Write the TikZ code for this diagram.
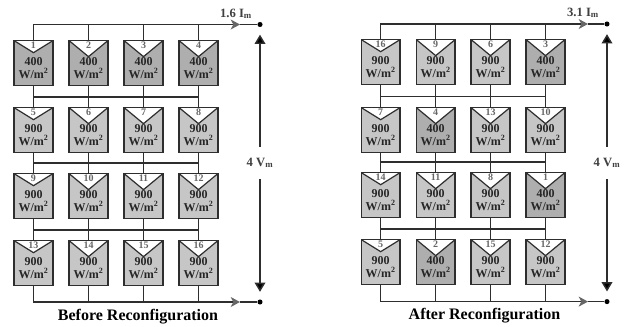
\documentclass[tikz,border=0pt]{standalone}
\usepackage{fontspec}
\setmainfont{Liberation Serif}
\usepackage{xcolor}
\usetikzlibrary{arrows.meta,positioning}

\definecolor{pv400}{HTML}{AEAEAE}
\definecolor{pv900}{HTML}{C6C6C6}
\definecolor{wirecol}{HTML}{2E2E2E}

% name, x, y, number, irradiance, notch depth
\newcommand{\pv}[6]{
\node[pv=#6, fill=pv#5] (#1) at (#2,#3) {};
\node[pvnum] (#1n) at ([yshift=-3.8pt]#1.north) {#4};
\node[pvtxt] (#1t) at ([yshift=-3.8pt]#1.center) {#5\\W/m\textsuperscript{2}};
}

\begin{document}
\begin{tikzpicture}[
x=0.75pt, y=-0.75pt,
pv/.style={draw=wirecol, line width=1.2pt, minimum width=29pt, minimum height=33.5pt, inner sep=0pt,
  path picture={\fill[white] (path picture bounding box.north west) -- (path picture bounding box.north east) -- ([yshift=-#1]path picture bounding box.north) -- cycle;
  \draw[wirecol, line width=0.9pt] (path picture bounding box.north west) -- ([yshift=-#1]path picture bounding box.north) -- (path picture bounding box.north east);}},
pvnum/.style={inner sep=0pt, font=\fontsize{7.5}{8}\selectfont\bfseries, text=black!60},
pvtxt/.style={inner sep=0pt, align=center, text=black!85, font=\fontsize{9}{9.8}\selectfont\bfseries},
wire/.style={draw=wirecol, line width=1pt},
arr/.style={wire, -{Stealth[length=7pt, width=7.5pt, inset=2pt, fill=black!60, color=black!60]}},
volt/.style={draw=wirecol, line width=1.1pt, -{Triangle[length=7pt, width=8pt, fill=black]}, shorten >=5.5pt},
dot/.style={circle, fill=black, inner sep=0pt, minimum size=3.8pt},
vlab/.style={inner sep=0pt, minimum height=24pt, font=\fontsize{9.5}{10}\selectfont\bfseries, text=black!75},
ilab/.style={inner sep=0pt, font=\fontsize{9.5}{10}\selectfont\bfseries, text=black!75},
captext/.style={inner sep=0pt, font=\fontsize{12}{13}\selectfont\bfseries}
]
\useasboundingbox (0,0) rectangle (624,326);

% before
\pv{b1}{33.5}{63}{1}{400}{9pt}
\pv{b2}{88.5}{63}{2}{400}{12pt}
\pv{b3}{143.5}{63}{3}{400}{12pt}
\pv{b4}{198.5}{63}{4}{400}{12pt}
\pv{b5}{33.5}{130}{5}{900}{9pt}
\pv{b6}{88.5}{130}{6}{900}{12pt}
\pv{b7}{143.5}{130}{7}{900}{12pt}
\pv{b8}{198.5}{130}{8}{900}{12pt}
\pv{b9}{33.5}{196}{9}{900}{9pt}
\pv{b10}{88.5}{196}{10}{900}{12pt}
\pv{b11}{143.5}{196}{11}{900}{12pt}
\pv{b12}{198.5}{196}{12}{900}{12pt}
\pv{b13}{33.5}{263}{13}{900}{9pt}
\pv{b14}{88.5}{263}{14}{900}{12pt}
\pv{b15}{143.5}{263}{15}{900}{12pt}
\pv{b16}{198.5}{263}{16}{900}{12pt}

% after
\pv{a16}{380.7}{62}{16}{900}{9pt}
\pv{a9}{435.7}{62}{9}{900}{12pt}
\pv{a6}{490.5}{62}{6}{900}{12pt}
\pv{a3}{545.5}{62}{3}{400}{12pt}
\pv{a7}{380.7}{130}{7}{900}{9pt}
\pv{a4}{435.7}{130}{4}{400}{12pt}
\pv{a13}{490.5}{130}{13}{900}{12pt}
\pv{a10}{545.5}{130}{10}{900}{12pt}
\pv{a14}{380.7}{195}{14}{900}{9pt}
\pv{a11}{435.7}{195}{11}{900}{12pt}
\pv{a8}{490.5}{195}{8}{900}{12pt}
\pv{a1}{545.5}{195}{1}{400}{12pt}
\pv{a5}{380.7}{262}{5}{900}{9pt}
\pv{a2}{435.7}{262}{2}{400}{12pt}
\pv{a15}{490.5}{262}{15}{900}{12pt}
\pv{a12}{545.5}{262}{12}{900}{12pt}

% terminals
\node[dot] (btop) at (260,24.5) {};
\node[dot] (bbot) at (260,302) {};
\node[dot] (atop) at (607,24) {};
\node[dot] (abot) at (607,301.6) {};
\coordinate (btip) at (240,24.5);
\coordinate (bbtip) at (240,302);
\coordinate (atip) at (588,24);
\coordinate (abtip) at (588,301.6);
\coordinate (bus1) at (0,97);
\coordinate (bus2) at (0,163);
\coordinate (bus3) at (0,230);
\coordinate (bus4) at (0,96.7);
\coordinate (bus5) at (0,162);
\coordinate (bus6) at (0,229);

% rails
\draw[wire] (btip) -- (btop);
\draw[arr] (b1.north) |- (btip);
\draw[wire] (bbtip) -- (bbot);
\draw[arr] (b13.south) |- (bbtip);
\draw[wire] (atip) -- (atop);
\draw[arr] (a16.north) |- (atip);
\draw[wire] (abtip) -- (abot);
\draw[arr] (a5.south) |- (abtip);

\foreach \n in {b2,b3,b4} \draw[wire] (\n.north) -- (\n.north |- btop);
\foreach \n in {b14,b15,b16} \draw[wire] (\n.south) -- (\n.south |- bbot);
\foreach \n in {a9,a6,a3} \draw[wire] (\n.north) -- (\n.north |- atop);
\foreach \n in {a2,a15,a12} \draw[wire] (\n.south) -- (\n.south |- abot);

% strings and buses
\foreach \u/\v in {b1/b5,b2/b6,b3/b7,b4/b8,b5/b9,b6/b10,b7/b11,b8/b12,b9/b13,b10/b14,b11/b15,b12/b16,
  a16/a7,a9/a4,a6/a13,a3/a10,a7/a14,a4/a11,a13/a8,a10/a1,a14/a5,a11/a2,a8/a15,a1/a12}
  \draw[wire] (\u.south) -- (\v.north);
\draw[wire] (b1.south |- bus1) -- (b4.south |- bus1);
\draw[wire] (b5.south |- bus2) -- (b8.south |- bus2);
\draw[wire] (b9.south |- bus3) -- (b12.south |- bus3);
\draw[wire] (a16.south |- bus4) -- (a3.south |- bus4);
\draw[wire] (a7.south |- bus5) -- (a10.south |- bus5);
\draw[wire] (a14.south |- bus6) -- (a1.south |- bus6);

% labels and voltage arrows
\node[ilab] (bi) at (236,14) {1.6 I\textsubscript{m}};
\node[ilab] (ai) at (583,13) {3.1 I\textsubscript{m}};
\node[vlab] (bv) at (260,163) {4 V\textsubscript{m}};
\node[vlab] (av) at (607,163) {4 V\textsubscript{m}};
\draw[volt] (bv) -- (btop);
\draw[volt] (bv) -- (bbot);
\draw[volt] (av) -- (atop);
\draw[volt] (av) -- (abot);
\node[captext] (bcap) at (138,316.5) {Before Reconfiguration};
\node[captext] (acap) at (484.5,316) {After Reconfiguration};
\end{tikzpicture}
\end{document}
